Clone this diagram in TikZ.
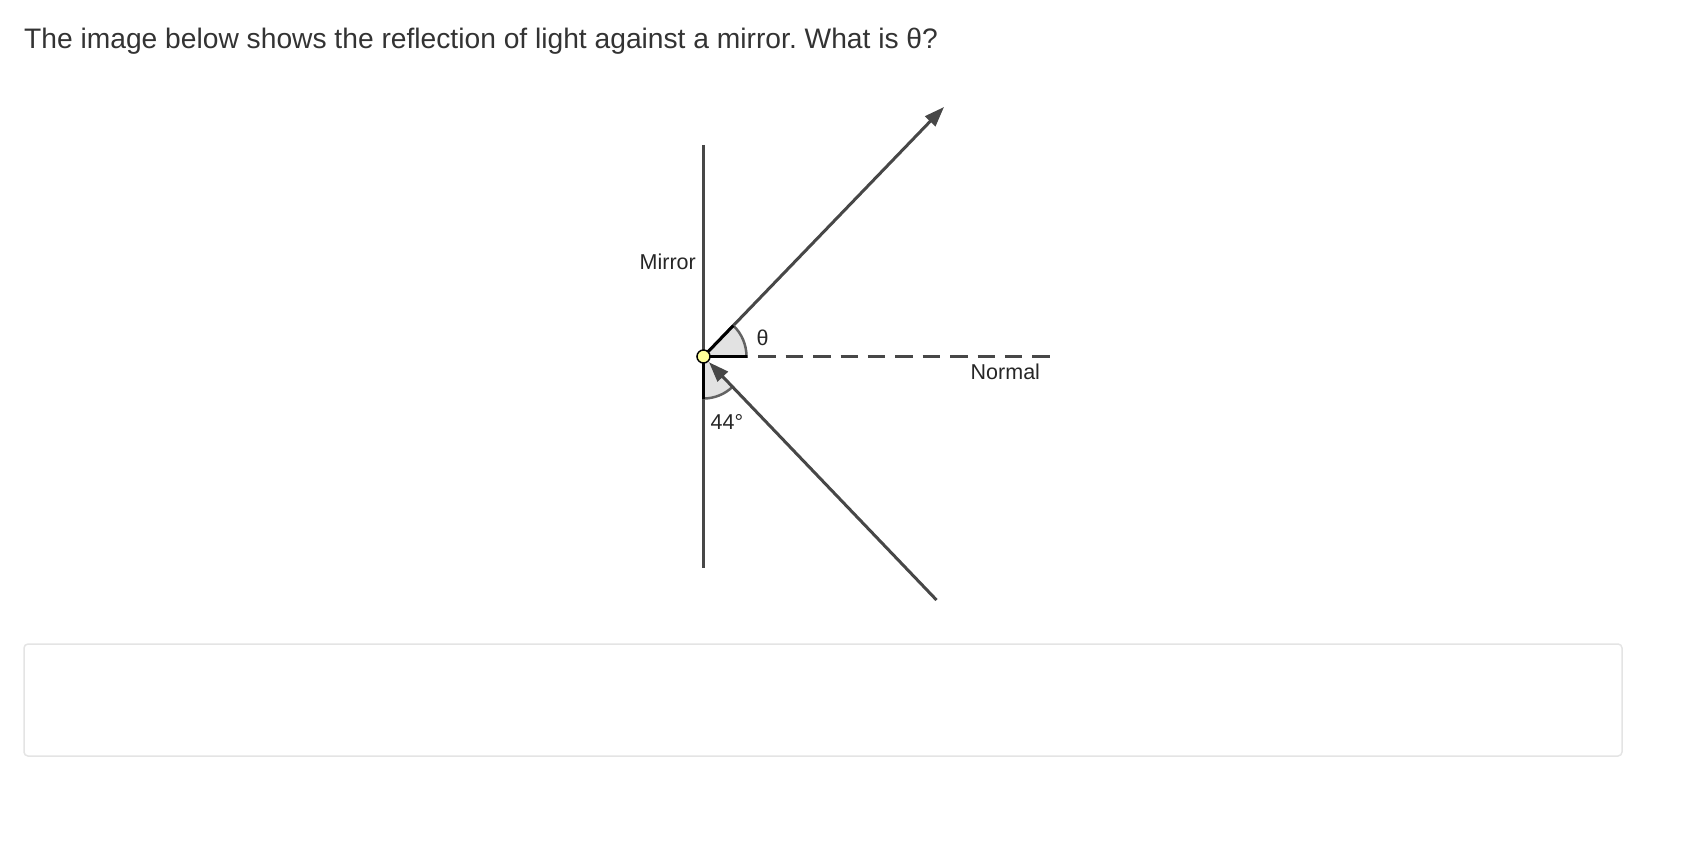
\documentclass[tikz,border=0pt]{standalone}
\usepackage{fontspec}
\setmainfont{Liberation Sans}
\frenchspacing
\usetikzlibrary{arrows.meta}
\definecolor{ray}{HTML}{474747}
\definecolor{wedge}{HTML}{E2E2E2}
\definecolor{boxline}{HTML}{E4E4E4}
\definecolor{qtext}{HTML}{333333}
\definecolor{pt}{HTML}{FFFF99}
\tikzset{
    ray/.style={draw=ray,line width=3pt},
    normalline/.style={draw=ray,line width=3pt,dash pattern=on 17.5pt off 9.9pt},
    lbl/.style={inner sep=0pt,font=\fontsize{21.5}{25}\selectfont,text=black!85},
    tip/.style={-{Triangle[length=20pt,width=14pt]}}
}
\begin{document}
\begin{tikzpicture}[x=1pt,y=-1pt]
    \useasboundingbox (0,0) rectangle (1702,856);
    
    \node[anchor=base west,inner sep=0pt,text=qtext,font=\fontsize{28.2}{32}\selectfont] (question) at (24,49)
        {The image below shows the reflection of light against a mirror. What is θ?};
    
    \coordinate (P) at (703.5,356.5);
    \coordinate (mirrortop) at (703.5,145);
    \coordinate (mirrorbot) at (703.5,567.5);
    \coordinate (normalend) at (1050.5,356.5);
    \coordinate (outend) at (944,107);
    \coordinate (inend) at (936.5,600);
    
    \draw[ray] (mirrortop) -- (mirrorbot);
    \draw[normalline] (P) -- (normalend);
    \draw[ray,tip] (P) -- (outend);
    
    % angle wedges (y axis points down, so angles turn clockwise)
    \fill[wedge] (P) -- ++(0:43) arc[start angle=0,end angle=-46,radius=43] -- cycle;
    \draw[line width=2.5pt,draw=ray!85] ([shift={(0:43)}]P) arc[start angle=0,end angle=-46,radius=43];
    \draw[line width=3pt] (P) -- ++(0:43);
    \draw[line width=3pt] (P) -- ++(-46:43);
    \fill[wedge] (P) -- ++(90:42) arc[start angle=90,end angle=46,radius=42] -- cycle;
    \draw[line width=2.5pt,draw=ray!85] ([shift={(90:42)}]P) arc[start angle=90,end angle=46,radius=42];
    \draw[line width=3pt] (P) -- ++(90:42);
    
    \draw[ray,tip,shorten >=8pt] (inend) -- (P);
    
    \fill[pt,draw=black,line width=1.5pt] (P) circle[radius=6.5];
    
    \node[lbl,anchor=base east] (mirrorlbl) at (696,269.5) {Mirror};
    \node[lbl,anchor=base west] (normallbl) at (970.5,379) {Normal};
    \node[lbl,anchor=base west] (thetalbl) at (756.5,345) {θ};
    \node[lbl,anchor=base west] (anglelbl) at (710.5,429) {44°};
    
    \draw[boxline,line width=1.5pt,rounded corners=4pt] (24,644) rectangle (1622,756);
\end{tikzpicture}
\end{document}
